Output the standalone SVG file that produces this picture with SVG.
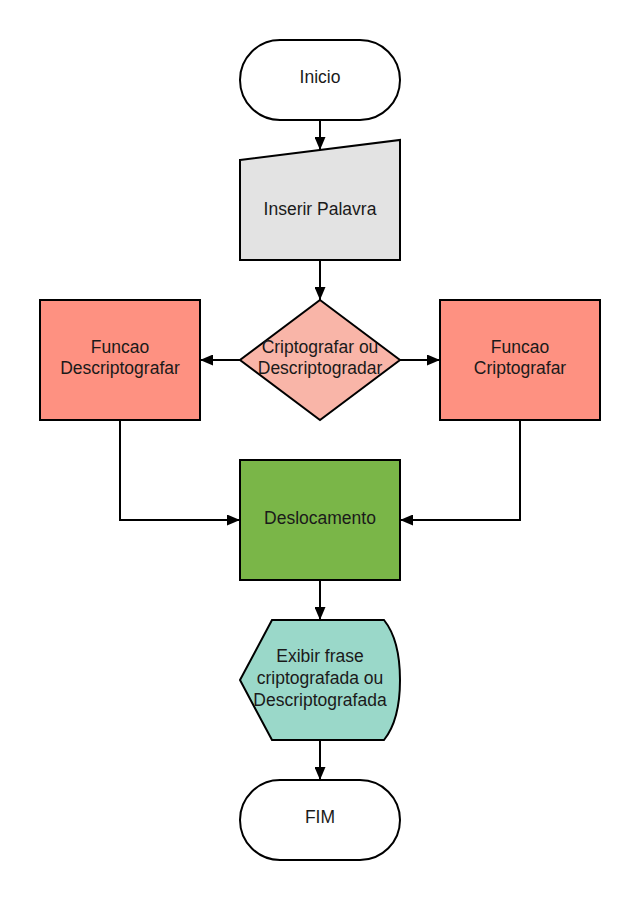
<svg xmlns="http://www.w3.org/2000/svg" width="640" height="900" viewBox="0 0 640 900">
<style>
.n{stroke:#000;stroke-width:2}
.t{font-family:"Liberation Sans",Arial,sans-serif;font-size:17.5px;fill:#1a1a1a;text-anchor:middle}
.c{fill:none;stroke:#000;stroke-width:2}
</style>
<defs>
<marker id="a" markerWidth="13" markerHeight="11" refX="13" refY="5.5" orient="auto" markerUnits="userSpaceOnUse">
<path d="M0,0 L13,5.5 L0,11 Z" fill="#000"/>
</marker>
</defs>
<rect width="640" height="900" fill="#fff"/>
<g id="connectors">
<path class="c" d="M320,120 V150" marker-end="url(#a)"/>
<path class="c" d="M320,260 V300" marker-end="url(#a)"/>
<path class="c" d="M240,360 H200" marker-end="url(#a)"/>
<path class="c" d="M400,360 H440" marker-end="url(#a)"/>
<path class="c" d="M120,420 V520 H240" marker-end="url(#a)"/>
<path class="c" d="M520,420 V520 H400" marker-end="url(#a)"/>
<path class="c" d="M320,580 V620" marker-end="url(#a)"/>
<path class="c" d="M320,740 V780" marker-end="url(#a)"/>
</g>
<g id="inicio">
<rect class="n" x="240" y="40" width="160" height="80" rx="40" fill="#fff"/>
<text class="t" x="320" y="83">Inicio</text>
</g>
<g id="inserir">
<path class="n" d="M240,160 L400,140 L400,260 L240,260 Z" fill="#e3e3e3"/>
<text class="t" x="320" y="215">Inserir Palavra</text>
</g>
<g id="decisao">
<path class="n" d="M320,300 L400,360 L320,420 L240,360 Z" fill="#f9b5a8"/>
<text class="t" x="320" y="353">Criptografar ou</text>
<text class="t" x="320" y="374">Descriptogradar</text>
</g>
<g id="descripto">
<rect class="n" x="40" y="300" width="160" height="120" fill="#fe9181"/>
<text class="t" x="120" y="353">Funcao</text>
<text class="t" x="120" y="374">Descriptografar</text>
</g>
<g id="cripto">
<rect class="n" x="440" y="300" width="160" height="120" fill="#fe9181"/>
<text class="t" x="520" y="353">Funcao</text>
<text class="t" x="520" y="374">Criptografar</text>
</g>
<g id="deslocamento">
<rect class="n" x="240" y="460" width="160" height="120" fill="#7ab648"/>
<text class="t" x="320" y="524">Deslocamento</text>
</g>
<g id="exibir">
<path class="n" d="M272,620 L384,620 Q400,640 400,680 Q400,720 384,740 L272,740 L240,680 Z" fill="#9ad8c9"/>
<text class="t" x="320" y="662">Exibir frase</text>
<text class="t" x="320" y="684">criptografada ou</text>
<text class="t" x="320" y="706">Descriptografada</text>
</g>
<g id="fim">
<rect class="n" x="240" y="780" width="160" height="80" rx="40" fill="#fff"/>
<text class="t" x="320" y="823">FIM</text>
</g>
</svg>
